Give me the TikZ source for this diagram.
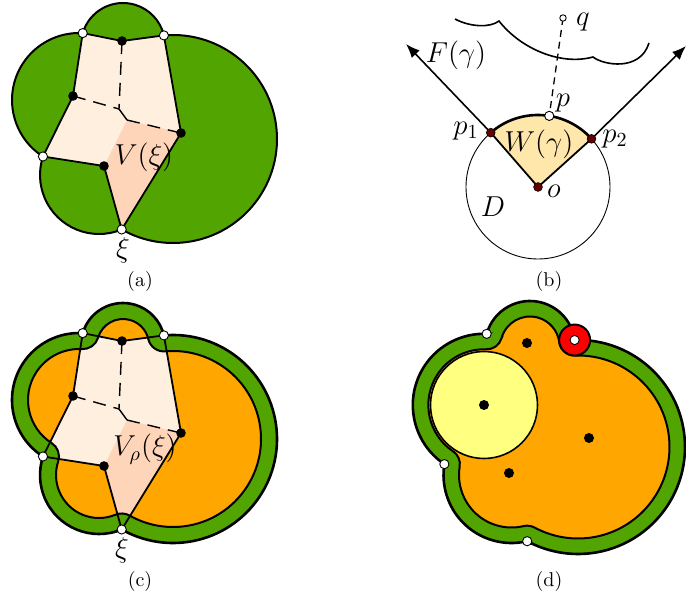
\documentclass[tikz,border=0pt]{standalone}
\usetikzlibrary{arrows.meta,calc}
\definecolor{grn}{RGB}{82,165,0}
\definecolor{cream}{RGB}{255,239,223}
\definecolor{pinkc}{RGB}{255,213,185}
\definecolor{orng}{RGB}{255,167,0}
\definecolor{yel}{RGB}{255,255,128}
\definecolor{wfill}{RGB}{255,230,170}
\definecolor{dred}{RGB}{100,0,0}
% union boundaries and eroded (inner) boundaries, pixel units, y downwards
\newcommand\UnionA{(aT) ++(-163.55:42) arc[start angle=-163.55,end angle=-13.21,radius=42] arc[start angle=-95.03,end angle=119.56,radius=104] arc[start angle=67.39,end angle=198.27,radius=59] arc[start angle=122.53,end angle=273.18,radius=67] -- cycle}
\newcommand\UnionC{(cT) ++(-163.55:42) arc[start angle=-163.55,end angle=-13.21,radius=42] arc[start angle=-95.03,end angle=119.56,radius=104] arc[start angle=67.39,end angle=198.27,radius=59] arc[start angle=122.53,end angle=273.18,radius=67] -- cycle}
\newcommand\ErosionC{(cT) ++(-163.55:26) arc[start angle=-163.55,end angle=-13.21,radius=26] arc[start angle=166.79,end angle=84.97,radius=16] arc[start angle=-95.03,end angle=119.56,radius=88] arc[start angle=299.56,end angle=247.39,radius=16] arc[start angle=67.39,end angle=198.27,radius=43] arc[start angle=18.27,end angle=-57.47,radius=16] arc[start angle=122.53,end angle=273.18,radius=51] arc[start angle=93.18,end angle=16.45,radius=16] -- cycle}
\newcommand\UnionD{(dT) ++(-164.34:45) arc[start angle=-164.34,end angle=-7.60,radius=45] arc[start angle=-91.82,end angle=118.34,radius=107] arc[start angle=76.66,end angle=189.19,radius=68] arc[start angle=123.82,end angle=272.15,radius=71.2] -- cycle}
\newcommand\ErosionD{(dT) ++(-164.34:29.5) arc[start angle=-164.34,end angle=-7.60,radius=29.5] arc[start angle=172.40,end angle=88.18,radius=15.5] arc[start angle=-91.82,end angle=118.34,radius=91.5] arc[start angle=298.34,end angle=256.66,radius=15.5] arc[start angle=76.66,end angle=189.19,radius=52.5] arc[start angle=9.19,end angle=-56.18,radius=15.5] arc[start angle=123.82,end angle=272.15,radius=55.7] arc[start angle=92.15,end angle=15.66,radius=15.5] -- cycle}
\begin{document}
\begin{tikzpicture}[x=0.5pt,y=-0.5pt,
  bdot/.style={circle,fill=black,inner sep=0pt,minimum size=4.8pt},
  wdot/.style={circle,draw=black,fill=white,line width=0.45pt,inner sep=0pt,minimum size=4.6pt},
  rdot/.style={circle,draw=black,fill=dred,line width=0.3pt,inner sep=0pt,minimum size=4.4pt},
  edgeline/.style={line width=0.9pt},
  vdash/.style={line width=0.7pt,dash pattern=on 6.5pt off 4pt},
  qdash/.style={line width=0.65pt,dash pattern=on 3.5pt off 2.5pt},
  ray/.style={line width=0.8pt,-{Latex[length=7pt,width=5.5pt]}},
  lbl/.style={inner sep=0pt,font=\Large},
  captxt/.style={inner sep=0pt}
]
\useasboundingbox (0,0) rectangle (686,599);

% ================= (a)
\coordinate (aT) at (123,45);
\coordinate (aG) at (173,139);
\coordinate (aB) at (99,175);
\coordinate (aL) at (79,100);
\coordinate (aTL) at (82.72,33.11);
\coordinate (aTR) at (163.89,35.40);
\coordinate (aXi) at (121.69,229.47);
\coordinate (aLf) at (42.97,156.50);
\coordinate (aPt) at (122,41);
\coordinate (aPl) at (73,96);
\coordinate (aPr) at (181,133);
\coordinate (aPb) at (104,166);
\coordinate (aJ1) at (119,109);
\coordinate (aJ2) at (127,120);

\path[fill=grn,draw=black,line width=1pt] \UnionA;
\fill[cream] (aTL) -- (aPt) -- (aTR) -- (aPr) -- (aXi) -- (aPb) -- (aLf) -- (aPl) -- cycle;
\fill[pinkc] (aJ2) -- (aPr) -- (aXi) -- (aPb) -- cycle;
\draw[vdash] (aPt) -- (aJ1);
\draw[vdash] (aPl) -- (aJ1);
\draw[line width=0.7pt] (aJ1) -- (aJ2);
\draw[vdash] (aJ2) -- (aPr);
\draw[edgeline] (aTL) -- (aPt) -- (aTR) -- (aPr) -- (aXi) -- (aPb) -- (aLf) -- (aPl) -- cycle;
\foreach \n in {aPt,aPl,aPr,aPb} \node[bdot] (d\n) at (\n) {};
\foreach \n in {aTL,aTR,aXi,aLf} \node[wdot] (d\n) at (\n) {};
\node[lbl] (aV) at (144,157) {$V(\xi)$};
\node[lbl] (aXiL) at (123,250) {$\xi$};
\node[captxt] (capa) at (140,281) {(a)};

% ================= (c)
\begin{scope}[shift={(0,300)}]
\coordinate (cT) at (123,45);
\coordinate (cG) at (173,139);
\coordinate (cB) at (99,175);
\coordinate (cL) at (79,100);
\coordinate (cTL) at (82.72,33.11);
\coordinate (cTR) at (163.89,35.40);
\coordinate (cXi) at (121.69,229.47);
\coordinate (cLf) at (42.97,156.50);
\coordinate (cPt) at (122,41);
\coordinate (cPl) at (73,96);
\coordinate (cPr) at (181,133);
\coordinate (cPb) at (104,166);
\coordinate (cJ1) at (119,109);
\coordinate (cJ2) at (127,120);
\end{scope}

\path[fill=grn,draw=black,line width=1.3pt] \UnionC;
\path[fill=orng] \ErosionC;
\begin{scope}
\clip \ErosionC;
\fill[cream] (cTL) -- (cPt) -- (cTR) -- (cPr) -- (cXi) -- (cPb) -- (cLf) -- (cPl) -- cycle;
\fill[pinkc] (cJ2) -- (cPr) -- (cXi) -- (cPb) -- cycle;
\end{scope}
\path[draw=black,line width=1pt] \ErosionC;
\draw[vdash] (cPt) -- (cJ1);
\draw[vdash] (cPl) -- (cJ1);
\draw[line width=0.7pt] (cJ1) -- (cJ2);
\draw[vdash] (cJ2) -- (cPr);
\draw[edgeline] (cTL) -- (cPt) -- (cTR) -- (cPr) -- (cXi) -- (cPb) -- (cLf) -- (cPl) -- cycle;
\foreach \n in {cPt,cPl,cPr,cPb} \node[bdot] (d\n) at (\n) {};
\foreach \n in {cTL,cTR,cXi,cLf} \node[wdot] (d\n) at (\n) {};
\node[lbl] (cV) at (145,449) {$V_\rho(\xi)$};
\node[lbl] (cXiL) at (122,550) {$\xi$};
\node[captxt] (capc) at (140,581) {(c)};

% ================= (b)
\coordinate (o) at (538,187);
\coordinate (p1) at ($(o)+(-131:72)$);
\coordinate (p2) at ($(o)+(-42:72)$);
\coordinate (p) at ($(o)+(-81:72)$);
\coordinate (q) at (563,18);
\coordinate (F1) at (406,44);
\coordinate (F2) at (686,46);
\fill[wfill] (o) -- (p1) arc[start angle=-131,end angle=-42,radius=72] -- cycle;
\draw[line width=0.45pt] (o) circle[radius=72];
\draw[line width=0.9pt] (p1) -- (o) -- (p2);
\draw[line width=1.3pt] (p1) arc[start angle=-131,end angle=-42,radius=72];
\draw[ray] (p1) -- (F1);
\draw[ray] (p2) -- (F2);
\draw[qdash] (q) -- (p);
\draw[line width=0.8pt] (455,19) .. controls (470,27) and (490,28) .. (499,21)
   .. controls (520,48) and (560,66) .. (593,57)
   .. controls (603,65) and (640,72) .. (649,43);
\node[rdot] (dp1) at (p1) {};
\node[rdot] (dp2) at (p2) {};
\node[rdot] (do) at (o) {};
\node[wdot] (dp) at (p) {};
\node[wdot,minimum size=3.2pt] (dq) at (q) {};
\node[lbl] (lF) at (456,55) {$F(\gamma)$};
\node[lbl] (lq) at (583,22) {$q$};
\node[lbl] (lp) at (563,103) {$p$};
\node[lbl] (lp1) at (466,131) {$p_1$};
\node[lbl] (lp2) at (615,139) {$p_2$};
\node[lbl] (lW) at (539,144) {$W(\gamma)$};
\node[lbl] (lo) at (554,191) {$o$};
\node[lbl] (lD) at (493,207) {$D$};
\node[captxt] (capb) at (549,281) {(b)};

% ================= (d)
\coordinate (dT) at (530,346);
\coordinate (dG) at (578,447);
\coordinate (dB) at (511.5,475);
\coordinate (dL) at (484,405);
\coordinate (dTL) at (486.67,333.85);
\coordinate (dTR) at (574.6,340.05);
\coordinate (dBot) at (527.2,541.2);
\coordinate (dLf) at (444.37,464.14);
\path[fill=grn,draw=black,line width=1.3pt] \UnionD;
\path[fill=orng,draw=black,line width=1pt] \ErosionD;
\draw[fill=yel,line width=0.8pt] (dL) circle[radius=53.5];
\draw[fill=red,line width=1pt] (dTR) circle[radius=15.5];
\foreach \n/\pos in {s1/{(527,343)},s2/{(484,405)},s3/{(589,438)},s4/{(509,473)}}
  \node[bdot,minimum size=5pt] (\n) at \pos {};
\foreach \n in {dTL,dTR,dBot,dLf} \node[wdot] (w\n) at (\n) {};
\node[captxt] (capd) at (549,581) {(d)};
\end{tikzpicture}
\end{document}
